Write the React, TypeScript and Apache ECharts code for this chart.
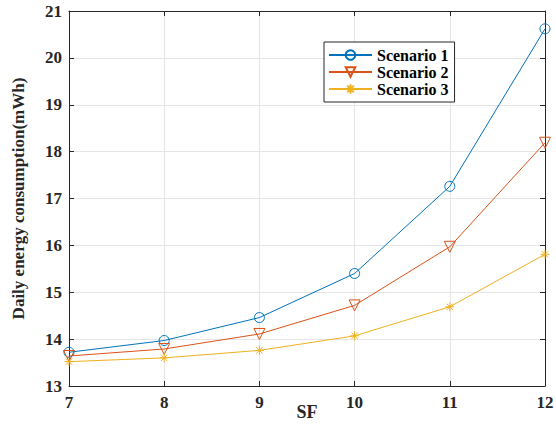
import React, { useEffect, useRef } from "react";
import * as echarts from "echarts";

const sf = [7, 8, 9, 10, 11, 12];
const scenario1 = [13.72, 13.97, 14.46, 15.4, 17.26, 20.62];
const scenario2 = [13.64, 13.79, 14.11, 14.72, 15.97, 18.19];
const scenario3 = [13.52, 13.6, 13.76, 14.07, 14.69, 15.81];
const names = ["Scenario 1", "Scenario 2", "Scenario 3"];
const colors = ["#0072BD", "#D95319", "#EDB120"];

const FONT = "'Liberation Serif', 'Times New Roman', serif";
const triDown = "path://M0,0L10,0L5,8.66Z";
const asterisk = "path://M0,5L10,5M5,0L5,10M1.5,1.5L8.5,8.5M1.5,8.5L8.5,1.5";

export default function App() {
  const ref = useRef<HTMLDivElement>(null);
  useEffect(() => {
    const chart = echarts.init(ref.current!, null, { renderer: "svg" });
    const mk = (i: number, vals: number[], symbol: string, size: number) => ({
      name: names[i],
      type: "line",
      data: sf.map((x, k) => [x, vals[k]]),
      symbol,
      symbolSize: size,
      showAllSymbol: true,
      lineStyle: { color: colors[i], width: 1 },
      itemStyle: { color: "none", borderColor: colors[i], borderWidth: 1 },
      emphasis: { disabled: true },
    });
    const tickCommon = {
      axisLine: { show: true, lineStyle: { color: "#262626", width: 1 } },
      axisTick: { show: true, inside: true, length: 5, lineStyle: { color: "#262626" } },
    };
    chart.setOption({
      animation: false,
      backgroundColor: "#ffffff",
      grid: { left: 69, right: 11, top: 11, bottom: 43, containLabel: false, outerBoundsMode: "none" },
      legend: {
        left: 324,
        top: 42,
        orient: "vertical",
        itemWidth: 43,
        itemHeight: 12,
        itemGap: 1,
        padding: [5, 6, 5, 4],
        borderColor: "#262626",
        borderWidth: 1,
        backgroundColor: "#ffffff",
        borderRadius: 0,
        textStyle: { fontFamily: FONT, fontWeight: "bold", fontSize: 16, color: "#000" },
        data: names,
      },
      xAxis: [
        {
          type: "value",
          min: 7,
          max: 12,
          interval: 1,
          name: "SF",
          nameLocation: "middle",
          nameGap: 17,
          nameMoveOverlap: false,
          nameTextStyle: { fontFamily: FONT, fontWeight: "bold", fontSize: 18, color: "#262626" },
          axisLabel: { fontFamily: FONT, fontWeight: "bold", fontSize: 17, color: "#262626", margin: 8 },
          splitLine: { show: true, lineStyle: { color: "#e5e5e5", width: 1 } },
          ...tickCommon,
        },
        {
          type: "value",
          position: "top",
          min: 7,
          max: 12,
          interval: 1,
          axisLabel: { show: false },
          splitLine: { show: false },
          ...tickCommon,
        },
      ],
      yAxis: [
        {
          type: "value",
          min: 13,
          max: 21,
          interval: 1,
          name: "Daily energy consumption(mWh)",
          nameLocation: "middle",
          nameGap: 42,
          nameMoveOverlap: false,
          nameTextStyle: { fontFamily: FONT, fontWeight: "bold", fontSize: 17, color: "#262626" },
          axisLabel: { fontFamily: FONT, fontWeight: "bold", fontSize: 17, color: "#262626", margin: 7 },
          splitLine: { show: true, lineStyle: { color: "#e5e5e5", width: 1 } },
          ...tickCommon,
        },
        {
          type: "value",
          position: "right",
          min: 13,
          max: 21,
          interval: 1,
          axisLabel: { show: false },
          splitLine: { show: false },
          ...tickCommon,
        },
      ],
      series: [
        mk(0, scenario1, "circle", 10),
        mk(1, scenario2, triDown, 11),
        mk(2, scenario3, asterisk, 9),
      ],
    });
    return () => chart.dispose();
  }, []);
  return <div ref={ref} style={{ width: 556, height: 429, position: "absolute", left: 0, top: 0 }} />;
}
